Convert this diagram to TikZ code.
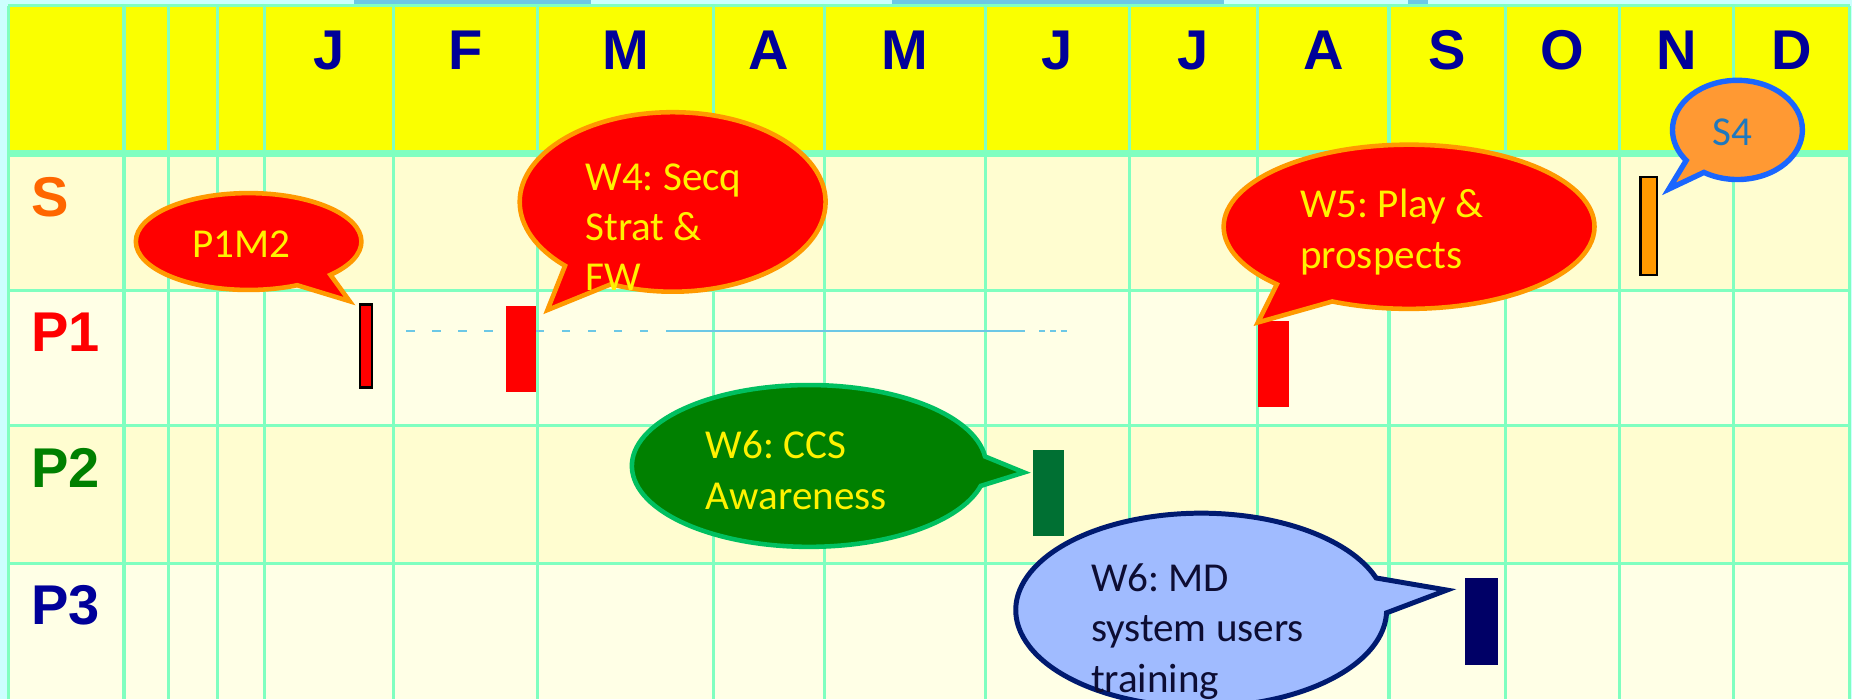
\documentclass[tikz,border=0pt]{standalone}
\usepackage{fontspec}
\setmainfont{Carlito}
\newfontfamily\headfont{Liberation Sans}
\usepackage{xcolor}
\usepackage{tikz}
\usetikzlibrary{positioning,shapes.callouts}
\frenchspacing

\definecolor{gridline}{RGB}{128,255,192}
\definecolor{headyellow}{RGB}{250,255,0}
\definecolor{rowdark}{RGB}{255,253,208}
\definecolor{rowlight}{RGB}{255,255,230}
\definecolor{skycyan}{RGB}{204,255,255}
\definecolor{bandblue}{RGB}{108,200,230}
\definecolor{monthblue}{RGB}{0,0,153}
\definecolor{sorange}{RGB}{255,102,0}
\definecolor{pgreen}{RGB}{0,128,0}
\definecolor{borderorange}{RGB}{255,153,0}
\definecolor{calloutgreen}{RGB}{0,192,96}
\definecolor{bargreen}{RGB}{0,112,51}
\definecolor{barnavy}{RGB}{0,0,102}
\definecolor{sfourfill}{RGB}{255,153,51}
\definecolor{sfourborder}{RGB}{26,102,255}
\definecolor{sfourtext}{RGB}{30,120,190}
\definecolor{mdfill}{RGB}{160,187,255}
\definecolor{mdborder}{RGB}{0,26,112}
\definecolor{mdtext}{RGB}{13,13,51}

\begin{document}
\begin{tikzpicture}[
  x=0.1mm, y=-0.1mm,
  month/.style={font=\headfont\bfseries\fontsize{13.5pt}{16pt}\selectfont, text=monthblue, anchor=base, inner sep=0pt},
  rowlabel/.style={font=\headfont\bfseries\fontsize{13.5pt}{16pt}\selectfont, anchor=base west, inner sep=0pt},
  gantbar/.style={rectangle, anchor=north west, inner sep=0pt, outer sep=0pt},
  bubble/.style={ellipse callout, inner sep=0pt, outer sep=0pt, callout pointer arc=21, line width=1.1pt},
  bubbletext/.style={font=\fontsize{9.9pt}{12.1pt}\selectfont, align=left, anchor=base west, inner sep=0pt}
]

\useasboundingbox (0,0) rectangle (1568,592);
\clip (0,0) rectangle (1568,592);

\fill[skycyan] (0,0) rectangle (1568,592);
\fill[bandblue] (300,0) rectangle (500,5);
\fill[bandblue] (755,0) rectangle (1036,5);
\fill[bandblue] (1192,0) rectangle (1209,5);

\foreach \ya/\yb/\c in {5/130/headyellow,130/246/rowdark,246/360/rowlight,360/477/rowdark,477/592/rowlight}
  \fill[\c] (7,\ya) rectangle (1566,\yb);

\foreach \x in {7,105,143,184,224,333,455,604,698,834,956,1065,1176,1275,1371,1468,1566}
  \draw[gridline, line width=0.75pt] (\x,5) -- (\x,592);
\foreach \y in {5,246,360,477}
  \draw[gridline, line width=0.75pt] (7,\y) -- (1566,\y);
\draw[gridline, line width=1.6pt] (7,130) -- (1566,130);

\foreach \m/\xa/\xb [count=\i] in {J/224/333,F/333/455,M/455/604,A/604/698,M/698/834,J/834/956,J/956/1065,A/1065/1176,S/1176/1275,O/1275/1371,N/1371/1468,D/1468/1566}
  \node[month] (mon\i) at ({(\xa+\xb)/2},59) {\m};

\node[rowlabel, text=sorange] (rowS) at (26,183) {S};
\node[rowlabel, text=red] (rowPone) at (26,298) {P1};
\node[rowlabel, text=pgreen] (rowPtwo) at (26,413) {P2};
\node[rowlabel, text=monthblue] (rowPthree) at (26,529) {P3};

\draw[bandblue, line width=0.4pt, dash pattern=on 0.7mm off 1.5mm] (344,280) -- (564,280);
\draw[bandblue, line width=0.4pt] (564,280) -- (868,280);
\draw[bandblue, line width=0.4pt, dash pattern=on 0.5mm off 0.4mm] (880,280) -- (904,280);

\node[gantbar, fill=red, draw=black, line width=0.6pt, minimum width=1mm, minimum height=7mm] (m2bar) at (305,258) {};
\node[gantbar, fill=red, minimum width=2.6mm, minimum height=7.3mm] (w4bar) at (428,259) {};
\node[gantbar, fill=red, minimum width=2.6mm, minimum height=7.3mm] (w5bar) at (1065,272) {};
\node[gantbar, fill=bargreen, minimum width=2.6mm, minimum height=7.3mm] (ccsbar) at (875,381) {};
\node[gantbar, fill=barnavy, minimum width=2.8mm, minimum height=7.4mm] (mdbar) at (1240,489) {};
\node[gantbar, fill=borderorange, draw=black, line width=0.6pt, minimum width=1.4mm, minimum height=8.3mm] (s4bar) at (1389,150) {};

\node[bubble, fill=red, draw=borderorange, minimum width=19.1mm, minimum height=8.2mm,
  callout absolute pointer={([xshift=-0.9mm,yshift=0.3mm]m2bar.north west)}] (m2call) at (210.5,204.5) {};
\node[bubble, fill=red, draw=borderorange, minimum width=25.9mm, minimum height=15.2mm,
  callout absolute pointer={([xshift=0.95mm,yshift=-0.35mm]w4bar.north east)}] (w4call) at (569.5,171) {};
\node[bubble, fill=red, draw=borderorange, minimum width=31.4mm, minimum height=13.9mm,
  callout absolute pointer={([yshift=-0.1mm]w5bar.north west)}] (w5call) at (1193,192) {};
\node[bubble, fill=sfourfill, draw=sfourborder, line width=1.3pt, minimum width=11mm, minimum height=8.4mm,
  callout absolute pointer={([xshift=1mm,yshift=-1mm]s4bar.north east)}] (s4call) at (1471,110) {};
\node[bubble, fill=pgreen, draw=calloutgreen, minimum width=30mm, minimum height=13.7mm,
  callout absolute pointer={([xshift=-0.8mm,yshift=-1.9mm]ccsbar.north west)}] (ccscall) at (685,394.5) {};
\node[bubble, fill=mdfill, draw=mdborder, line width=1.2pt, minimum width=31.4mm, minimum height=16.4mm,
  callout absolute pointer={([xshift=-1.5mm,yshift=-1.06mm]mdbar.north west)}] (mdcall) at (1017,516.5) {};

\node[bubbletext, text=yellow] (m2text) at (162,218) {P1M2};
\node[bubbletext, text=yellow] (w4text) at (495,246) {W4: Secq\\Strat \&\\FW};
\node[bubbletext, text=yellow] (w5text) at (1100,227) {W5: Play \&\\prospects};
\node[bubbletext, text=sfourtext] (s4text) at (1449,123) {S4};
\node[bubbletext, text=yellow] (ccstext) at (597,431) {W6: CCS\\Awareness};
\node[bubbletext, text=mdtext] (mdtext) at (923,586) {W6: MD\\system users\\training};

\end{tikzpicture}
\end{document}
